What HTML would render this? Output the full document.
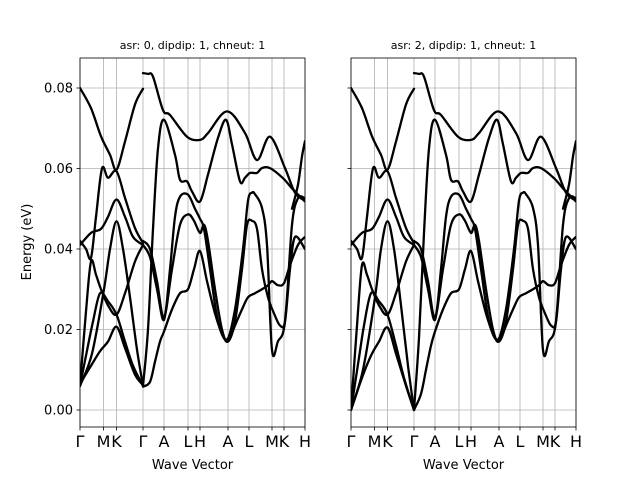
<!DOCTYPE html>
<html><head><meta charset="utf-8"><style>
body{margin:0;background:#fff}
svg{display:block;font-family:"DejaVu Sans","Liberation Sans",sans-serif}
</style></head><body>
<svg id="chart" width="640" height="480" viewBox="0 0 640 480"></svg>
<script>
// ---- data: k = path distance (0..225), e = energy (eV) ----
const tickLabels=["Γ","M","K","Γ","A","L","H","A","L","M","K","H"];
const tickK=[0,23.5,36.5,63,84,108,120,148,169,192,204,225];
const yTicks=[0.00,0.02,0.04,0.06,0.08];
const yTickLabels=["0.00","0.02","0.04","0.06","0.08"];
const titles=["asr: 0, dipdip: 1, chneut: 1","asr: 2, dipdip: 1, chneut: 1"];

const kB6=[0,11,21,30,36.5,45,55,63];
const eB6=[0.080,0.075,0.068,0.0634,0.0597,0.0667,0.0759,0.0798];
const kL5=[0,6,11,16,22,28,36.5,45,55,63];
const eL5=[0.042,0.040,0.0378,0.048,0.060,0.0577,0.0593,0.0527,0.0452,0.0415];
const kL6=[0,11,21,28,36.5,45,53,63];
const eL6=[0.041,0.044,0.045,0.048,0.0523,0.048,0.043,0.041];
const kL3=[0,12,24,30,36.5,43,50,57,63];
const eL3=[0.006,0.014,0.030,0.040,0.0469,0.040,0.028,0.015,0.006];
const eL3r=[0.0,0.010,0.028,0.040,0.0469,0.040,0.026,0.011,0.0];
const kL2=[0,6,11,16,21,28,36.5,45,55,63];
const eL2=[0.006,0.0245,0.0369,0.0336,0.030,0.026,0.0237,0.029,0.0369,0.041];
const eL2r=[0.0,0.021,0.036,0.0336,0.030,0.026,0.0237,0.029,0.0369,0.041];
const kL4=[0,8,13,20,28,36.5,45,53,63];
const eL4=[0.006,0.016,0.022,0.029,0.027,0.0237,0.017,0.011,0.006];
const eL4r=[0.0,0.013,0.021,0.029,0.027,0.0237,0.016,0.008,0.0];
const kL1=[0,11,20,28,36.5,45,55,63];
const eL1=[0.0065,0.011,0.0146,0.017,0.0207,0.0154,0.0088,0.0062];
const eL1r=[0.0,0.008,0.0135,0.017,0.0205,0.014,0.006,0.0];

const kT=[63,68,73,83,90,107,120,128,147,165,177,190,205,215,225];
const eT=[0.0837,0.0835,0.0828,0.0745,0.0733,0.0679,0.0671,0.0688,0.0742,0.0688,0.0621,0.0679,0.0601,0.054,0.052];
const kR=[212,218,222,225];
const eR=[0.050,0.056,0.063,0.0668];
const kU=[63,68,73,78,84,95,100,107,112,120,128,138,146,152,160,165,170,177,182,190,203,213,225];
const eU=[0.006,0.02,0.045,0.065,0.0721,0.0634,0.0572,0.0568,0.0543,0.0518,0.0585,0.0676,0.0721,0.066,0.0568,0.0577,0.0589,0.0589,0.0601,0.0601,0.0576,0.0548,0.0518];
const eUr=[0.0,0.018,0.044,0.065,0.0721,0.0634,0.0572,0.0568,0.0543,0.0518,0.0585,0.0676,0.0721,0.066,0.0568,0.0577,0.0589,0.0589,0.0601,0.0601,0.0576,0.0548,0.0518];
const kV=[63,70,77,84,90,95,100,108,115,120,124,130,138,147,155,163,168,172,175,182,187,192,198,205,212,218,225];
const eV=[0.041,0.038,0.030,0.0224,0.035,0.048,0.053,0.0535,0.050,0.0475,0.045,0.035,0.022,0.0175,0.025,0.040,0.052,0.054,0.0536,0.0502,0.041,0.0149,0.0171,0.022,0.046,0.0526,0.0526];
const kW=[63,70,77,84,92,100,108,114,120,124,128,135,142,148,155,162,167,172,177,182,188,194,200,205,210,215,225];
const eW=[0.042,0.040,0.032,0.023,0.035,0.046,0.0486,0.047,0.044,0.046,0.042,0.030,0.020,0.017,0.022,0.035,0.046,0.047,0.045,0.035,0.028,0.024,0.021,0.022,0.035,0.043,0.040];
const kX=[63,70,75,80,84,92,100,108,114,120,127,135,142,148,155,162,168,175,182,188,192,198,204,210,218,225];
const eX=[0.0058,0.007,0.012,0.017,0.0195,0.025,0.029,0.030,0.035,0.0395,0.032,0.024,0.019,0.017,0.021,0.025,0.028,0.029,0.030,0.031,0.032,0.031,0.0315,0.036,0.041,0.043];
const eXr=[0.0,0.004,0.010,0.016,0.0195,0.025,0.029,0.030,0.035,0.0395,0.032,0.024,0.019,0.017,0.021,0.025,0.028,0.029,0.030,0.031,0.032,0.031,0.0315,0.036,0.041,0.043];

const panels=[
 {x0:80,series:[[kB6,eB6],[kL5,eL5],[kL6,eL6],[kL3,eL3],[kL2,eL2],[kL4,eL4],[kL1,eL1],[kT,eT],[kR,eR],[kU,eU],[kV,eV],[kW,eW],[kX,eX]]},
 {x0:351,series:[[kB6,eB6],[kL5,eL5],[kL6,eL6],[kL3,eL3r],[kL2,eL2r],[kL4,eL4r],[kL1,eL1r],[kT,eT],[kR,eR],[kU,eUr],[kV,eV],[kW,eW],[kX,eXr]]}
];

const NS="http://www.w3.org/2000/svg";
const svg=document.getElementById('chart');
const TOP=58,BOT=427,W=225;
const yS=e=>410-e*4025;
function mk(tag,attrs,parent){const el=document.createElementNS(NS,tag);for(const a in attrs)el.setAttribute(a,attrs[a]);(parent||svg).appendChild(el);return el;}
function spline(pts){
  let d="M"+pts[0][0].toFixed(2)+","+pts[0][1].toFixed(2);
  for(let i=0;i<pts.length-1;i++){
    const p0=pts[Math.max(0,i-1)],p1=pts[i],p2=pts[i+1],p3=pts[Math.min(pts.length-1,i+2)];
    const c1=[p1[0]+(p2[0]-p0[0])/6,p1[1]+(p2[1]-p0[1])/6];
    const c2=[p2[0]-(p3[0]-p1[0])/6,p2[1]-(p3[1]-p1[1])/6];
    d+=" C"+c1[0].toFixed(2)+","+c1[1].toFixed(2)+" "+c2[0].toFixed(2)+","+c2[1].toFixed(2)+" "+p2[0].toFixed(2)+","+p2[1].toFixed(2);
  }
  return d;
}
panels.forEach((p,pi)=>{
  const xS=k=>p.x0+k/225*W;
  const g=mk('g',{});
  
  
  const cp=mk('clipPath',{id:'clip'+pi},g);
  mk('rect',{x:p.x0,y:TOP,width:W,height:BOT-TOP},cp);
  tickK.forEach((k,i)=>{
    const l=mk('line',{x1:xS(k),x2:xS(k),y1:TOP,y2:BOT,stroke:'#b0b0b0','stroke-width':0.8},g);
    
    
    mk('line',{x1:xS(k),x2:xS(k),y1:BOT,y2:BOT+3.5,stroke:'#000','stroke-width':0.8},g);
    const t=mk('text',{x:xS(k),y:BOT+20,'font-size':16,'text-anchor':'middle'},g);
    t.textContent=tickLabels[i];
    
    
  });
  yTicks.forEach((v,i)=>{
    const l=mk('line',{x1:p.x0,x2:p.x0+W,y1:yS(v),y2:yS(v),stroke:'#b0b0b0','stroke-width':0.8},g);
    
    
    mk('line',{x1:p.x0-3.5,x2:p.x0,y1:yS(v),y2:yS(v),stroke:'#000','stroke-width':0.8},g);
    if(pi===0){
      const t=mk('text',{x:p.x0-7,y:yS(v)+4.5,'font-size':13,'text-anchor':'end'},g);
      t.textContent=yTickLabels[i];
      
      
    }
  });
  const lg=mk('g',{'clip-path':'url(#clip'+pi+')'},g);
  p.series.forEach((s,si)=>{
    const pts=s[0].map((k,j)=>[xS(k),yS(s[1][j])]);
    const path=mk('path',{d:spline(pts),fill:'none',stroke:'#000','stroke-width':2.3,'stroke-linejoin':'round','stroke-linecap':'round'},lg);
    
    
  });
  const fr=mk('rect',{x:p.x0,y:TOP,width:W,height:BOT-TOP,fill:'none',stroke:'#000','stroke-width':0.8},g);
  
  
  const tt=mk('text',{x:p.x0+W/2,y:49,'font-size':11,'text-anchor':'middle'},g);
  tt.textContent=titles[pi];
  
  
  const xl=mk('text',{x:p.x0+W/2,y:469,'font-size':13,'text-anchor':'middle'},g);
  xl.textContent='Wave Vector';
  
  
});
const yl=mk('text',{x:0,y:0,'font-size':13,'text-anchor':'middle',transform:'translate(31,242) rotate(-90)'});
yl.textContent='Energy (eV)';


</script>
</body></html>
